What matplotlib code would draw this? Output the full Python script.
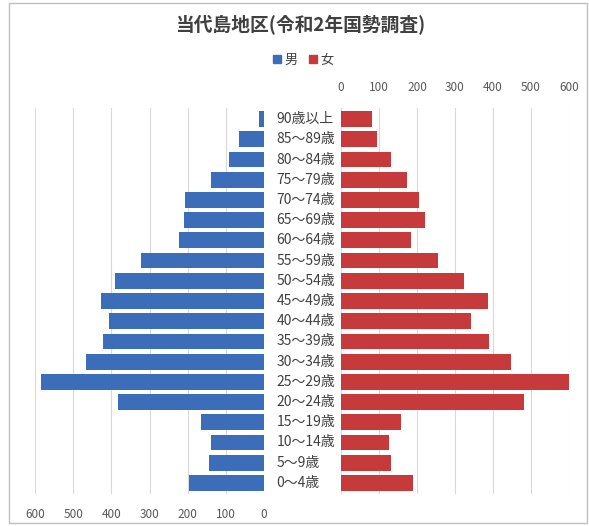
import matplotlib
matplotlib.use("Agg")
import matplotlib.pyplot as plt
from matplotlib.patches import Patch, Rectangle
import matplotlib.transforms as mtransforms

plt.rcParams['font.family'] = ['Noto Sans CJK JP', 'DejaVu Sans']

# age groups, top to bottom
ages = ["90歳以上", "85～89歳", "80～84歳", "75～79歳", "70～74歳", "65～69歳",
        "60～64歳", "55～59歳", "50～54歳", "45～49歳", "40～44歳", "35～39歳",
        "30～34歳", "25～29歳", "20～24歳", "15～19歳", "10～14歳", "5～9歳", "0～4歳"]
male = [13, 65, 92, 139, 207, 210, 222, 322, 390, 427, 406, 421,
        466, 584, 382, 165, 139, 144, 196]
female = [82, 95, 132, 174, 205, 221, 184, 255, 324, 387, 342, 390,
          447, 600, 481, 158, 126, 132, 189]
ticks = [0, 100, 200, 300, 400, 500, 600]

blue = "#3C6DB8"
red = "#C73A3B"
grid = "#D9D9D9"
txt = "#404040"

fig = plt.figure(figsize=(5.89, 5.26), dpi=100)

# outer chart border
fig.patches.append(Rectangle((9 / 589, 3 / 526), 578 / 589, 520 / 526,
                             transform=fig.transFigure, fill=False,
                             edgecolor="#BFBFBF", linewidth=1))

top = 1 - 108 / 526
bot = 1 - 494 / 526
axl = fig.add_axes([35 / 589, bot, 229 / 589, top - bot])
axr = fig.add_axes([341 / 589, bot, 228 / 589, top - bot])

y = list(range(len(ages)))

axl.barh(y, male, height=0.78, color=blue, zorder=3)
axr.barh(y, female, height=0.78, color=red, zorder=3)

for ax in (axl, axr):
    ax.set_ylim(len(ages) - 0.45, -0.55)
    ax.set_yticks([])
    ax.set_xticks(ticks)
    ax.xaxis.grid(True, color=grid, linewidth=0.8, zorder=0)
    ax.tick_params(axis="x", length=0, labelsize=8.5, labelcolor="#595959")
    for s in ax.spines.values():
        s.set_visible(False)

axl.set_xlim(600, 0)
axl.tick_params(axis="x", pad=10)
axr.set_xlim(0, 600)
axr.xaxis.tick_top()
axr.tick_params(axis="x", pad=10)

# category labels between the two halves
trans = mtransforms.blended_transform_factory(axr.transAxes, axr.transData)
for i, lab in enumerate(ages):
    axr.text(-0.283, i, lab, transform=trans, ha="left", va="center",
             fontsize=10, color=txt, clip_on=False)

fig.text(0.51, 1 - 25 / 526, "当代島地区(令和2年国勢調査)", ha="center",
         va="center", fontsize=13.5, fontweight="bold", color=txt)

handles = [Patch(color=blue, label="男"), Patch(color=red, label="女")]
fig.legend(handles=handles, loc="center", bbox_to_anchor=(0.515, 1 - 60 / 526),
           ncol=2, frameon=False, fontsize=9.5, handlelength=0.6,
           handleheight=0.6, handletextpad=0.3, columnspacing=0.8,
           labelcolor=txt)

fig.savefig("out.png", dpi=100, facecolor="white")
